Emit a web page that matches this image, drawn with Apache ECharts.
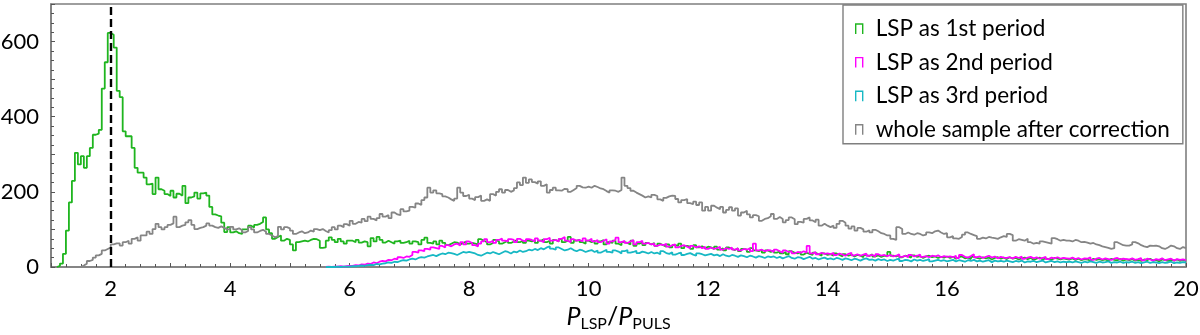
<!DOCTYPE html>
<html>
<head>
<meta charset="utf-8">
<script src="https://cdn.jsdelivr.net/npm/echarts@6/dist/echarts.min.js"></script>
<style>
  html, body { margin: 0; padding: 0; background: #fff; }
  #chart { width: 1200px; height: 335px; }
</style>
</head>
<body>
<div id="chart"></div>
<script>
// histogram bins: width 0.05, each series starts at its first non-empty bin
const binWidth = 0.05
const xEnd = 20

const greenStart = 1.1
const green = [
  3, 9, 35, 97, 172, 229, 304, 273, 295, 264, 295, 317, 352, 355, 365, 475, 545, 623,
  618, 584, 469, 452, 361, 348, 348, 317, 264, 251, 251, 238, 220, 222, 194, 238, 207, 203, 194, 189,
  203, 185, 195, 190, 216, 170, 185, 188, 198, 182, 196, 198, 190, 160, 140, 137, 135, 118, 93, 106,
  92, 95, 90, 88, 100, 101, 110, 105, 112, 115, 120, 132, 100, 90, 75, 80, 84, 70, 75, 72,
  60, 44, 66, 68, 70, 68, 72, 75, 74, 70, 51, 52, 70, 79, 72, 66, 75, 68, 62, 70,
  70, 66, 72, 65, 68, 66, 55, 77, 68, 80, 72, 65, 70, 66, 62, 68, 70, 64, 66, 70,
  62, 68, 66, 60, 72, 78, 64, 62, 68, 60, 70, 64, 58, 62, 66, 65, 60, 64, 68, 62,
  64, 62, 60, 74, 70, 66, 60, 64, 72, 68, 62, 66, 70, 64, 68, 72, 66, 70, 64, 70,
  68, 72, 64, 70, 74, 66, 70, 62, 72, 68, 74, 66, 70, 80, 64, 70, 72, 66, 62, 70,
  66, 70, 62, 68, 72, 60, 66, 64, 70, 62, 58, 66, 64, 60, 70, 56, 62, 66, 58, 64,
  60, 64, 56, 62, 58, 54, 60, 52, 58, 56, 62, 50, 56, 54, 48, 58, 52, 55, 50, 54,
  52, 48, 54, 46, 50, 44, 52, 48, 45, 50, 42, 48, 46, 40, 50, 44, 42, 46, 38, 44,
  40, 44, 38, 42, 36, 40, 34, 42, 38, 36, 40, 33, 38, 35, 32, 38, 34, 30, 36, 32,
  34, 30, 36, 32, 28, 34, 30, 33, 28, 32, 30, 26, 32, 29, 34, 28, 31, 27, 30, 28,
  40, 30, 28, 32, 26, 30, 28, 25, 31, 27, 29, 24, 28, 30, 26, 28, 24, 27, 25, 28,
  24, 27, 22, 26, 28, 23, 25, 21, 27, 24, 22, 26, 23, 25, 20, 24, 26, 22, 25, 21,
  26, 22, 24, 20, 23, 25, 21, 24, 19, 22, 25, 20, 23, 21, 19, 24, 22, 20, 23, 21,
  20, 23, 19, 22, 18, 21, 20, 17, 22, 19, 21, 18, 20, 17, 22, 19, 18, 21, 17, 20,
  18, 21, 17, 19, 16, 20, 18, 22, 17, 19, 15, 20, 18, 16, 19, 17, 20, 16, 18, 17,
]

const magentaStart = 5.6
const magenta = [
  1, 0, 1, 1, 2, 1, 2, 3,
  3, 5, 4, 7, 6, 9, 8, 12, 10, 14, 16, 15, 19, 18, 22, 20, 26, 24, 28, 27,
  32, 40, 38, 44, 42, 48, 46, 52, 50, 48, 56, 52, 58, 55, 60, 62, 57, 66, 60, 68,
  64, 58, 55, 62, 68, 74, 66, 70, 64, 72, 76, 70, 68, 74, 72, 66, 75, 70, 68, 74,
  72, 68, 76, 70, 66, 74, 78, 70, 72, 68, 75, 80, 70, 66, 74, 70, 72, 68, 76, 70,
  75, 68, 72, 66, 70, 74, 62, 68, 72, 78, 66, 70, 64, 68, 72, 60, 66, 70, 62, 64,
  60, 62, 56, 60, 58, 62, 54, 58, 60, 52, 56, 58, 54, 50, 56, 52, 55, 50, 54, 48,
  52, 48, 50, 54, 46, 50, 48, 52, 46, 50, 44, 48, 46, 50, 42, 62, 44, 46, 42, 45,
  44, 40, 46, 42, 38, 44, 40, 42, 36, 40, 38, 42, 38, 56, 36, 40, 34, 38, 35, 36,
  34, 38, 32, 36, 33, 30, 35, 38, 31, 34, 30, 33, 36, 30, 32, 28, 34, 30, 32, 29,
  32, 28, 30, 34, 27, 30, 26, 32, 28, 30, 33, 27, 29, 26, 30, 28, 31, 26, 29, 27,
  28, 26, 30, 24, 32, 27, 25, 29, 34, 26, 28, 24, 27, 30, 25, 28, 23, 27, 25, 24,
  26, 23, 27, 24, 28, 22, 25, 27, 23, 26, 22, 24, 27, 21, 25, 23, 26, 22, 24, 23,
  22, 25, 21, 24, 20, 23, 22, 26, 19, 22, 24, 20, 23, 21, 19, 22, 24, 20, 22, 21,
  20, 23, 19, 21, 24, 18, 22, 20, 17, 21, 19, 23, 18, 20, 22, 17, 21, 19, 20, 18,
]

const cyanStart = 5.6
const cyan = [
  0, 0, 0, 1, 0, 1, 1, 1,
  2, 2, 3, 4, 3, 5, 6, 5, 8, 7, 9, 10, 12, 11, 14, 13, 16, 18, 17, 20,
  22, 20, 24, 26, 25, 28, 30, 32, 29, 33, 36, 34, 38, 37, 35, 32, 36, 40, 38, 40,
  38, 36, 32, 30, 34, 38, 36, 40, 37, 34, 38, 42, 40, 36, 41, 39, 44, 40, 42, 46,
  44, 48, 45, 50, 47, 52, 55, 49, 46, 52, 48, 44, 46, 50, 45, 42, 46, 44, 40, 43,
  45, 40, 44, 38, 42, 46, 40, 38, 44, 41, 36, 42, 45, 38, 40, 43, 37, 41, 39, 36,
  40, 36, 38, 34, 42, 37, 35, 39, 33, 36, 38, 32, 35, 37, 33, 30, 36, 34, 31, 33,
  35, 31, 33, 29, 34, 30, 28, 32, 30, 27, 31, 29, 26, 30, 28, 25, 29, 27, 24, 28,
  26, 28, 24, 27, 23, 26, 29, 24, 22, 26, 25, 21, 24, 27, 22, 24, 20, 23, 25, 21,
  23, 20, 24, 22, 19, 23, 21, 18, 22, 20, 17, 21, 23, 19, 20, 17, 21, 18, 20, 16,
  19, 17, 20, 22, 16, 19, 18, 15, 20, 17, 19, 16, 18, 21, 15, 17, 19, 16, 18, 15,
  17, 19, 15, 18, 16, 14, 18, 16, 19, 15, 17, 14, 16, 18, 13, 17, 15, 16, 14, 17,
  15, 13, 16, 14, 17, 12, 15, 14, 16, 13, 15, 17, 12, 14, 16, 13, 15, 12, 14, 13,
  14, 12, 15, 13, 11, 14, 12, 15, 13, 11, 14, 12, 13, 15, 11, 13, 12, 14, 11, 13,
  12, 14, 11, 13, 10, 12, 14, 11, 13, 12, 10, 13, 11, 12, 14, 10, 12, 11, 13, 12,
]

const grayStart = 1.5
const gray = [
  4, 9, 16, 19, 25, 31, 35, 44, 48, 52,
  60, 63, 63, 57, 66, 70, 62, 75, 79, 70, 84, 84, 94, 88, 101, 115, 106, 100, 106, 112,
  116, 134, 106, 110, 112, 119, 125, 112, 101, 104, 106, 110, 116, 110, 106, 104, 108, 104, 100, 101,
  107, 100, 103, 98, 92, 96, 106, 100, 92, 96, 99, 94, 88, 84, 79, 82, 107, 100, 106, 103,
  97, 88, 92, 95, 90, 92, 97, 94, 101, 98, 101, 96, 92, 98, 106, 100, 110, 106, 114, 110,
  123, 115, 120, 118, 128, 122, 134, 128, 124, 130, 141, 134, 138, 130, 145, 140, 138, 154, 148, 150,
  160, 158, 169, 165, 178, 185, 211, 198, 204, 196, 194, 188, 185, 180, 176, 182, 211, 198, 189, 192,
  182, 178, 186, 190, 176, 180, 176, 194, 190, 200, 207, 198, 205, 200, 204, 210, 225, 218, 238, 224,
  233, 226, 222, 228, 216, 220, 198, 205, 211, 204, 203, 208, 207, 200, 205, 210, 216, 212, 211, 214,
  211, 216, 213, 209, 207, 202, 198, 204, 203, 200, 205, 238, 216, 210, 203, 198, 194, 190, 185, 188,
  185, 192, 189, 180, 176, 184, 188, 190, 189, 181, 172, 178, 181, 170, 167, 174, 165, 172, 150, 160,
  150, 163, 158, 154, 160, 145, 152, 159, 150, 156, 137, 145, 150, 140, 132, 138, 135, 123, 128, 130,
  135, 141, 128, 133, 128, 119, 125, 132, 127, 114, 120, 118, 128, 132, 124, 119, 126, 110, 115, 110,
  106, 110, 104, 115, 123, 118, 110, 102, 108, 97, 104, 100, 94, 98, 92, 99, 95, 90, 88, 84,
  84, 75, 72, 106, 101, 88, 92, 88, 86, 90, 88, 84, 86, 92, 90, 95, 97, 92, 88, 90,
  79, 82, 76, 75, 80, 86, 92, 88, 85, 82, 75, 78, 76, 80, 78, 77, 75, 79, 82, 80,
  88, 85, 70, 74, 72, 70, 75, 66, 62, 64, 62, 68, 66, 64, 62, 77, 74, 70, 72, 70,
  70, 68, 72, 70, 66, 67, 65, 62, 64, 60, 58, 55, 53, 51, 48, 50, 66, 62, 58, 57,
  57, 60, 66, 63, 58, 55, 53, 57, 56, 57, 55, 50, 48, 52, 57, 55, 50, 48, 53, 50,
]

const seriesNames = [
  'LSP as 1st period',
  'LSP as 2nd period',
  'LSP as 3rd period',
  'whole sample after correction',
]
const seriesColors = ['#1fb51f', '#ff00ff', '#17b8c4', '#858585']
const yTicks = [0, 200, 400, 600]
const xTicks = [2, 4, 6, 8, 10, 12, 14, 16, 18, 20]
const refLine = 2

// step outline of a histogram: rise from 0 at the first edge, one point per bin edge
function steps(start, values) {
  const pts = [[start, 0]]
  values.forEach((v, i) => {
    pts.push([Math.round((start + i * binWidth) * 100) / 100, v])
  })
  pts.push([xEnd, values[values.length - 1]])
  return pts
}

const font = 'Lato'

const chart = echarts.init(document.getElementById('chart'), null, { renderer: 'canvas' })

const histSeries = [
  [greenStart, green],
  [magentaStart, magenta],
  [cyanStart, cyan],
  [grayStart, gray],
].map(([start, vals], i) => ({
  name: seriesNames[i],
  type: 'line',
  step: 'end',
  showSymbol: false,
  symbol: 'none',
  animation: false,
  data: steps(start, vals),
  itemStyle: { color: seriesColors[i] },
  lineStyle: { color: seriesColors[i], width: 1.8 },
  z: 2,
}))

histSeries[0].markLine = {
  silent: true,
  symbol: 'none',
  animation: false,
  label: { show: false },
  lineStyle: { color: '#000', type: [8, 4], width: 2.4 },
  data: [{ xAxis: refLine }],
}

chart.setOption({
  animation: false,
  textStyle: { fontFamily: font },
  grid: {
    left: 51,
    right: 14,
    top: 4,
    bottom: 68,
    outerBoundsMode: 'none',
    show: true,
    borderColor: '#7f7f7f',
    borderWidth: 1.6,
  },
  legend: {
    orient: 'vertical',
    left: 843,
    top: 5,
    padding: [12, 13, 2, 12],
    itemGap: 9.6,
    itemWidth: 7,
    itemHeight: 10,
    icon: 'path://M0,10L0,0L7,0L7,10',
    borderColor: '#7f7f7f',
    borderWidth: 1.4,
    backgroundColor: '#fff',
    textStyle: { fontFamily: font, fontSize: 22.5, color: '#000', lineHeight: 24, padding: [0, 0, 0, 8] },
    data: seriesNames.map((name, i) => ({
      name,
      itemStyle: { color: 'transparent', borderColor: seriesColors[i], borderWidth: 1.4 },
    })),
  },
  xAxis: {
    type: 'value',
    min: 1,
    max: xEnd,
    interval: 1,
    name: '{i|P}{s|LSP}{d|/}{i|P}{s|PULS}',
    nameLocation: 'middle',
    nameGap: 34,
    nameTextStyle: {
      rich: {
        i: { fontFamily: font, fontStyle: 'italic', fontSize: 25, color: '#000', lineHeight: 28, verticalAlign: 'middle' },
        s: { fontFamily: font, fontSize: 16, color: '#000', lineHeight: 12, verticalAlign: 'bottom' },
        d: { fontFamily: font, fontSize: 25, color: '#000', lineHeight: 28, verticalAlign: 'middle' },
      },
    },
    axisLine: { lineStyle: { color: '#7f7f7f', width: 1.6 } },
    axisTick: { inside: true, length: 4, lineStyle: { color: '#555' } },
    minorTick: { show: true, splitNumber: 4, length: 3, lineStyle: { color: '#555' } },
    splitLine: { show: false },
    axisLabel: {
      fontFamily: font,
      fontSize: 22,
      color: '#000',
      margin: 11,
      formatter: v => (xTicks.includes(v) ? String(v) : ''),
    },
  },
  yAxis: {
    type: 'value',
    min: 0,
    max: 700,
    interval: 100,
    axisLine: { show: true, lineStyle: { color: '#7f7f7f', width: 1.6 } },
    axisTick: { inside: true, length: 4, lineStyle: { color: '#555' } },
    minorTick: { show: true, splitNumber: 4, length: 3, lineStyle: { color: '#555' } },
    splitLine: { show: false },
    axisLabel: {
      fontFamily: font,
      fontSize: 22,
      color: '#000',
      margin: 12,
      formatter: v => (yTicks.includes(v) ? String(v) : ''),
    },
  },
  series: histSeries,
})
</script>
</body>
</html>
